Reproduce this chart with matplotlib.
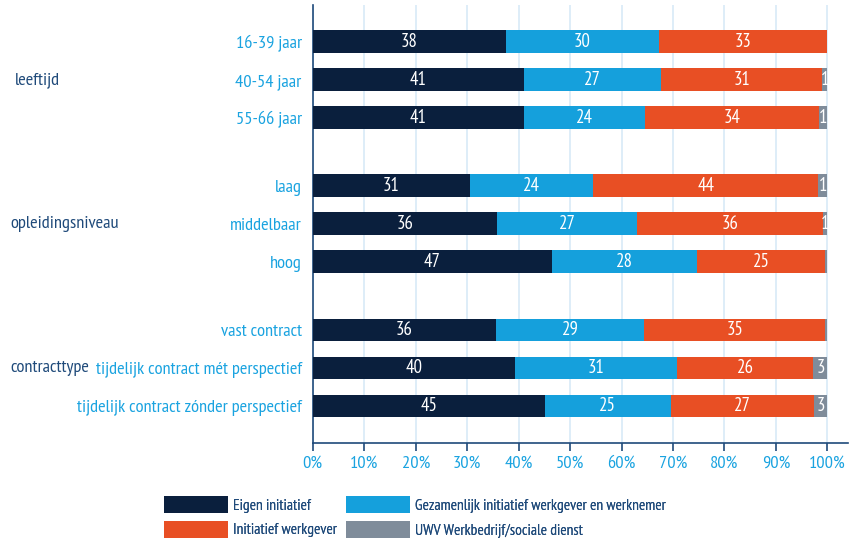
import numpy as np
import matplotlib.pyplot as plt
from matplotlib.transforms import blended_transform_factory

plt.rcParams['font.family'] = ['PT Sans Narrow', 'DejaVu Sans']

# Data (percentages)
categories = ['16-39 jaar', '40-54 jaar', '55-66 jaar',
              'laag', 'middelbaar', 'hoog',
              'vast contract', 'tijdelijk contract mét perspectief',
              'tijdelijk contract zónder perspectief']
groups = ['leeftijd', 'opleidingsniveau', 'contracttype']
group_of = [0, 0, 0, 1, 1, 1, 2, 2, 2]

series = ['Eigen initiatief', 'Gezamenlijk initiatief werkgever en werknemer',
          'Initiatief werkgever', 'UWV Werkbedrijf/sociale dienst']
eigen = [37.5, 41.1, 41.1, 30.5, 35.8, 46.5, 35.6, 39.3, 45.1]
gezamenlijk = [29.8, 26.6, 23.5, 24.0, 27.2, 28.2, 28.8, 31.5, 24.5]
werkgever = [32.7, 31.3, 33.8, 43.7, 36.2, 24.9, 35.2, 26.5, 27.9]
uwv = [0.0, 1.0, 1.6, 1.8, 0.8, 0.4, 0.4, 2.7, 2.5]

# shown numbers on the bars ('' = no label)
lab_eigen = ['38', '41', '41', '31', '36', '47', '36', '40', '45']
lab_gez = ['30', '27', '24', '24', '27', '28', '29', '31', '25']
lab_wg = ['33', '31', '34', '44', '36', '25', '35', '26', '27']
lab_uwv = ['', '1', '1', '1', '1', '', '', '3', '3']

colors = ['#0a1f3d', '#15a0dc', '#e84f24', '#7f8c9a']
navy = '#1f4a7a'
lightblue = '#1aa3e0'
fs = 13.2

fig = plt.figure(figsize=(8.57, 5.42), dpi=100)
ax = fig.add_axes([0.365, 0.183, 0.625, 0.808])

ypos = np.arange(len(categories)) + 0.79 * np.array(group_of)

data = [eigen, gezamenlijk, werkgever, uwv]
labels = [lab_eigen, lab_gez, lab_wg, lab_uwv]
left = np.zeros(len(categories))
handles = []
for vals, labs, col, name in zip(data, labels, colors, series):
    vals = np.array(vals)
    b = ax.barh(ypos, vals, left=left, height=0.6, color=col, label=name, zorder=3)
    handles.append(b)
    for y, l, v, t in zip(ypos, left, vals, labs):
        if t:
            ax.text(l + v / 2, y, t, ha='center', va='center', color='white',
                    fontsize=13.5, zorder=4, clip_on=True)
    left += vals

ax.set_xlim(0, 104.1)
ax.set_ylim(ypos[-1] + 0.97, -0.97)
ax.set_xticks(np.arange(0, 101, 10))
ax.set_xticklabels([f'{t}%' for t in range(0, 101, 10)])
ax.set_yticks(ypos)
ax.set_yticklabels(categories)

ax.grid(axis='x', color='#d8eaf7', linewidth=1.2, zorder=0)
for s in ['top', 'right']:
    ax.spines[s].set_visible(False)
for s in ['left', 'bottom']:
    ax.spines[s].set_color(navy)
    ax.spines[s].set_linewidth(1.2)
ax.tick_params(axis='x', colors=navy, labelcolor=lightblue, labelsize=fs,
               length=6, width=1.2, direction='out', pad=3)
ax.tick_params(axis='y', length=0, labelcolor=lightblue, labelsize=fs, pad=8)

# group labels
trans = blended_transform_factory(fig.transFigure, ax.transData)
group_x = [15 / 857, 10 / 857, 10 / 857]
for gi, g in enumerate(groups):
    idx = [i for i in range(len(categories)) if group_of[i] == gi]
    ax.text(group_x[gi], ypos[idx[1]], g, transform=trans, ha='left',
            va='center', color=navy, fontsize=fs)

# legend: two columns placed separately
lfs = 11.2
cols = [[0, 2], [1, 3]]
xs = [153 / 857, 335 / 857]
for c, x0 in zip(cols, xs):
    leg = fig.legend([handles[i] for i in c], [series[i] for i in c],
                     loc='lower left', bbox_to_anchor=(x0, -0.012),
                     frameon=False, handlelength=4.1, handleheight=1.3,
                     handletextpad=0.35, labelspacing=0.5, fontsize=lfs,
                     borderaxespad=0.3)
    for t in leg.get_texts():
        t.set_color(navy)
    fig.add_artist(leg)

fig.savefig('out.png', dpi=100)
